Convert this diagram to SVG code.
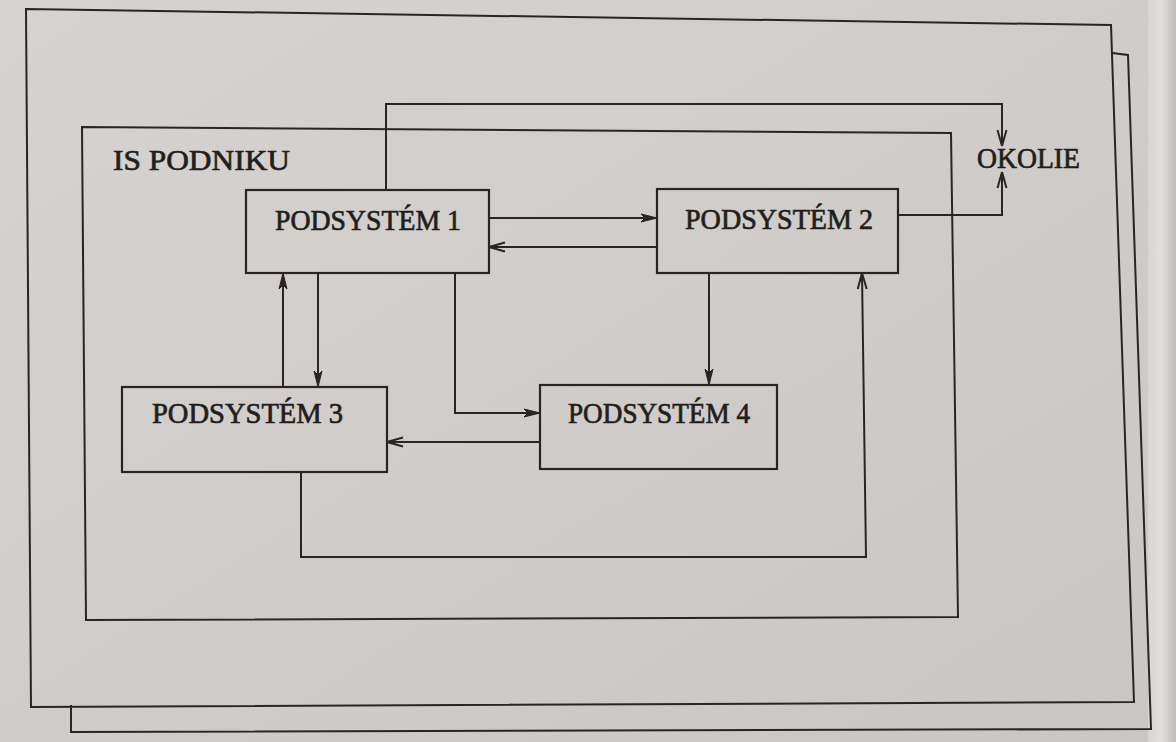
<svg xmlns="http://www.w3.org/2000/svg" width="1176" height="742" viewBox="0 0 1176 742">
<defs>
<linearGradient id="paper" x1="0" y1="0" x2="1" y2="1">
<stop offset="0" stop-color="#d6d3d1"/>
<stop offset="0.5" stop-color="#d0ccca"/>
<stop offset="1" stop-color="#cac6c4"/>
</linearGradient>
<linearGradient id="edge" x1="0" y1="0" x2="1" y2="0">
<stop offset="0" stop-color="#d8d6d5"/>
<stop offset="0.45" stop-color="#e2e0df"/>
<stop offset="1" stop-color="#bfbcbb"/>
</linearGradient>
<marker id="af" viewBox="0 -5 18 10" refX="17" refY="0" markerWidth="18" markerHeight="10" markerUnits="userSpaceOnUse" orient="auto">
<path d="M17,0 L1,-4 L5,0 L1,4 Z" fill="#2a2522" stroke="#2a2522" stroke-width="1"/>
</marker>
<marker id="ao" viewBox="0 -6 18 12" refX="17" refY="0" markerWidth="18" markerHeight="12" markerUnits="userSpaceOnUse" orient="auto">
<path d="M17,0 L1,-4.5 M17,0 L1,4.5" fill="none" stroke="#2a2522" stroke-width="2"/>
</marker>
</defs>
<style>
.ln{fill:none;stroke:#2a2522;stroke-width:2;stroke-linejoin:miter}
.bx{fill:none;stroke:#2a2522;stroke-width:2.2}
.tx{font-family:"Liberation Serif","DejaVu Serif",serif;font-size:30px;fill:#221e1c;stroke:#221e1c;stroke-width:0.7}
</style>
<rect x="0" y="0" width="1176" height="742" fill="url(#paper)"/>
<rect x="1148" y="0" width="28" height="742" fill="url(#edge)"/>
<g id="back-page">
<polyline class="ln" points="1112,53 1128,55 1151,729 71,732 71,705"/>
</g>
<g id="front-page">
<polygon class="ln" points="26,9 1111,25 1134,702 31,707"/>
</g>
<g id="is-podniku">
<polygon class="ln" points="82,127 951,133 958,617 86,620"/>
<text class="tx" x="113" y="170" textLength="177" lengthAdjust="spacingAndGlyphs">IS PODNIKU</text>
</g>
<g id="okolie">
<text class="tx" x="977" y="168" textLength="103" lengthAdjust="spacingAndGlyphs">OKOLIE</text>
</g>
<g id="p1">
<rect class="bx" x="246" y="190" width="243" height="83"/>
<text class="tx" x="275" y="230" textLength="186" lengthAdjust="spacingAndGlyphs">PODSYSTÉM 1</text>
</g>
<g id="p2">
<rect class="bx" x="657" y="189" width="241" height="84"/>
<text class="tx" x="685" y="229" textLength="188" lengthAdjust="spacingAndGlyphs">PODSYSTÉM 2</text>
</g>
<g id="p3">
<rect class="bx" x="122" y="387" width="265" height="85"/>
<text class="tx" x="152" y="423" textLength="191" lengthAdjust="spacingAndGlyphs">PODSYSTÉM 3</text>
</g>
<g id="p4">
<rect class="bx" x="540" y="385" width="237" height="84"/>
<text class="tx" x="568" y="423" textLength="182" lengthAdjust="spacingAndGlyphs">PODSYSTÉM 4</text>
</g>
<g id="connectors">
<polyline class="ln" points="386,190 386,104 1002,104 1002,146" marker-end="url(#ao)"/>
<polyline class="ln" points="898,215 1002,215 1002,172" marker-end="url(#ao)"/>
<line class="ln" x1="489" y1="218" x2="657" y2="218" marker-end="url(#af)"/>
<line class="ln" x1="657" y1="247" x2="489" y2="247" marker-end="url(#ao)"/>
<line class="ln" x1="283" y1="387" x2="283" y2="273" marker-end="url(#af)"/>
<line class="ln" x1="318" y1="273" x2="318" y2="387" marker-end="url(#af)"/>
<polyline class="ln" points="455,273 455,413 540,413" marker-end="url(#af)"/>
<line class="ln" x1="540" y1="442" x2="387" y2="442" marker-end="url(#ao)"/>
<line class="ln" x1="709" y1="273" x2="709" y2="385" marker-end="url(#af)"/>
<polyline class="ln" points="301,472 301,557 866,557 862,273" marker-end="url(#ao)"/>
</g>
</svg>
